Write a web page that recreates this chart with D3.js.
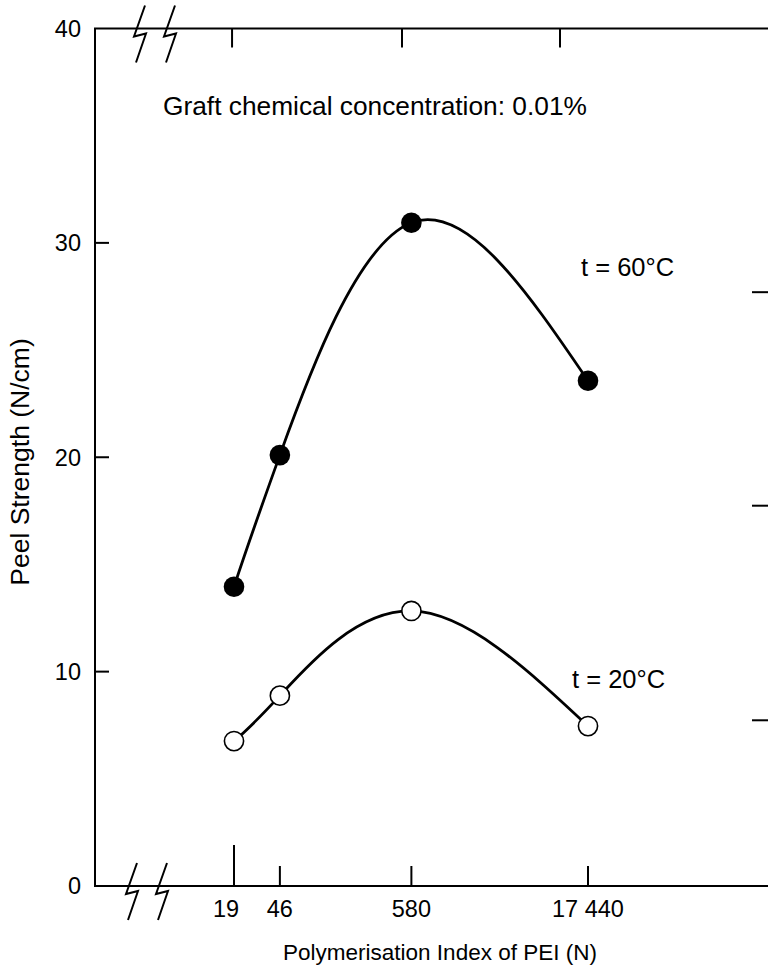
<!DOCTYPE html>
<html><head><meta charset="utf-8">
<script src="https://cdn.jsdelivr.net/npm/d3@7"></script>
<style>
body{margin:0;background:#fff}
svg{display:block}
text{font-family:"Liberation Sans",Arial,Helvetica,sans-serif;fill:#000}
</style>
</head><body><svg id="c" width="768" height="968"></svg>
<script>
// ---- data ----
const polymerIndex = [19, 46, 580, 17440];
const xTickLabels = ["19", "46", "580", "17 440"];
const peel60 = [13.96, 20.1, 30.94, 23.57];
const peel20 = [6.76, 8.88, 12.83, 7.46];
const yTicks = [0, 10, 20, 30, 40];
const topTicks = [18.3, 484, 10170];
const rightTicks = [7.73, 17.74, 27.7];
const seriesLabels = ["t = 60°C", "t = 20°C"];
const note = "Graft chemical concentration: 0.01%";
const xTitle = "Polymerisation Index of PEI (N)";
const yTitle = "Peel Strength (N/cm)";

// ---- layout ----
const svg = d3.select("#c");
const L = 95, R = 768, T = 28.5, B = 886;
const x = d3.scaleLog().domain([19, 17440]).range([234, 588]);
const y = d3.scaleLinear().domain([0, 40]).range([B, T]);
const FS = 23.5;

// frame lines
const g = svg.append("g").attr("stroke", "#000").attr("stroke-width", 2).attr("fill", "none");
g.append("line").attr("x1", L).attr("x2", L).attr("y1", T).attr("y2", B);
g.append("line").attr("x1", L - 1).attr("x2", R).attr("y1", T).attr("y2", T);
g.append("line").attr("x1", L - 1).attr("x2", R).attr("y1", B).attr("y2", B);

// left axis ticks (inward)
g.selectAll(".yt").data(yTicks.filter(d => d > 0 && d < 40)).join("line")
  .attr("x1", L).attr("x2", L + 14).attr("y1", d => y(d)).attr("y2", d => y(d));
svg.selectAll(".ytl").data(yTicks).join("text")
  .attr("x", L - 14).attr("y", d => y(d)).attr("dy", "0.36em")
  .attr("text-anchor", "end").attr("font-size", FS).text(d => d);

// bottom ticks
g.selectAll(".xt").data(polymerIndex).join("line")
  .attr("x1", d => x(d)).attr("x2", d => x(d))
  .attr("y1", (d, i) => i === 0 ? B - 41 : B - 20).attr("y2", B);
svg.selectAll(".xtl").data(polymerIndex).join("text")
  .attr("x", (d, i) => x(d) - (i === 0 ? 8 : 0)).attr("y", B + 31)
  .attr("text-anchor", "middle").attr("font-size", FS).text((d, i) => xTickLabels[i]);

// top ticks
g.selectAll(".tt").data(topTicks).join("line")
  .attr("x1", d => x(d)).attr("x2", d => x(d)).attr("y1", T).attr("y2", T + 19);

// right ticks
g.selectAll(".rt").data(rightTicks).join("line")
  .attr("x1", R - 16).attr("x2", R + 2).attr("y1", d => y(d)).attr("y2", d => y(d));

// axis breaks
const brk = [[11, -23], [0, 8], [12, 5], [2, 34]];
const breaks = [[L + 39, T], [L + 69, T], [L + 31, B], [L + 61, B]];
const bline = d3.line();
breaks.forEach(([bx, by]) => {
  svg.append("path").attr("d", bline(brk.map(([dx, dy]) => [bx + dx, by + dy])))
    .attr("fill", "none").attr("stroke", "#000").attr("stroke-width", 2).attr("stroke-linejoin", "miter");
});

// curves
const line = d3.line().x((d, i) => x(polymerIndex[i])).y(d => y(d)).curve(d3.curveNatural);
[peel60, peel20].forEach(s => {
  svg.append("path").attr("d", line(s)).attr("fill", "none").attr("stroke", "#000").attr("stroke-width", 2.8);
});

// markers
svg.selectAll(".p60").data(peel60).join("circle")
  .attr("cx", (d, i) => x(polymerIndex[i])).attr("cy", d => y(d)).attr("r", 10.3).attr("fill", "#000");
svg.selectAll(".p20").data(peel20).join("circle")
  .attr("cx", (d, i) => x(polymerIndex[i])).attr("cy", d => y(d)).attr("r", 9.6)
  .attr("fill", "#fff").attr("stroke", "#000").attr("stroke-width", 1.6);

// annotations
svg.append("text").attr("x", 581).attr("y", 276).attr("font-size", 25.5).text(seriesLabels[0]);
svg.append("text").attr("x", 572).attr("y", 688).attr("font-size", 25.5).text(seriesLabels[1]);
svg.append("text").attr("x", 163).attr("y", 115).attr("font-size", 26.3).text(note);

// axis titles
svg.append("text").attr("x", 440).attr("y", 960).attr("text-anchor", "middle").attr("font-size", 22.5).text(xTitle);
svg.append("text").attr("transform", "translate(29,462) rotate(-90)").attr("text-anchor", "middle")
  .attr("font-size", 26.5).text(yTitle);
</script>
</body></html>
